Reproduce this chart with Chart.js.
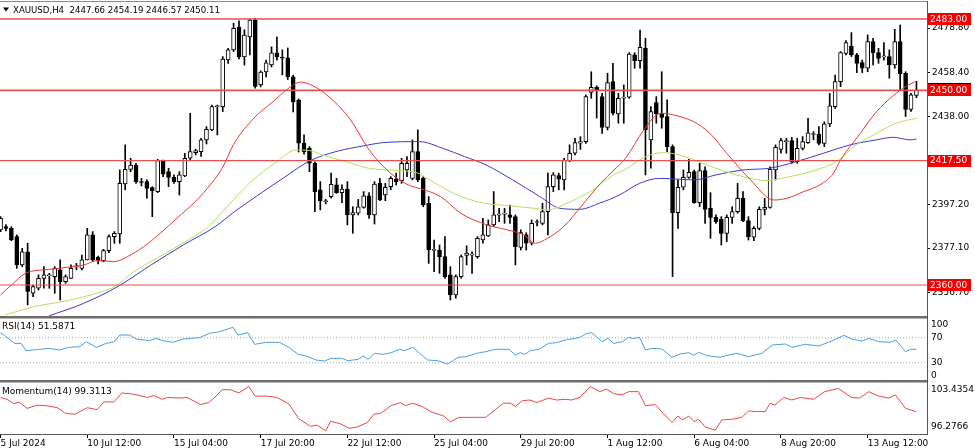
<!DOCTYPE html>
<html>
<head>
<meta charset="utf-8">
<title>XAUUSD H4</title>
<script src="https://cdn.jsdelivr.net/npm/chart.js@4/dist/chart.umd.min.js"></script>
<style>
  html, body { margin: 0; padding: 0; background: #fff; overflow: hidden; }
  #chart { display: block; background: #fff; }
</style>
</head>
<body>
<canvas id="chart" width="975" height="448" style="width:975px;height:448px"></canvas>
<script>
// ============================================
// DATA (bar 0 = 5 Jul 20:00)
// ============================================

const symbolName = 'XAUUSD,H4';

const opens = [
  2385.5, 2387.0, 2386.2, 2382.4, 2369.3, 2375.4, 2356.2, 2358.5, 2363.1, 2364.2,
  2363.9, 2367.0, 2361.6, 2363.1, 2368.4, 2367.7, 2371.6, 2383.2, 2372.8, 2371.3,
  2375.9, 2382.4, 2383.6, 2406.7, 2413.5, 2415.5, 2407.6, 2407.8, 2405.0, 2403.2,
  2417.5, 2412.4, 2409.8, 2407.8, 2410.4, 2418.6, 2421.2, 2421.7, 2427.1, 2431.7,
  2442.4, 2442.5, 2464.1, 2468.7, 2479.3, 2465.4, 2474.7, 2482.5, 2452.5, 2458.5,
  2461.7, 2467.3, 2465.1, 2465.0, 2456.2, 2445.5, 2425.6, 2423.2, 2416.3, 2404.0,
  2398.5, 2400.9, 2406.3, 2402.7, 2404.3, 2392.4, 2393.2, 2395.9, 2401.2, 2392.4,
  2407.0, 2401.6, 2405.5, 2409.0, 2408.2, 2413.2, 2409.3, 2421.7, 2409.3, 2397.8,
  2376.0, 2376.2, 2373.1, 2364.7, 2355.4, 2363.9, 2373.7, 2373.8, 2373.1, 2380.8,
  2382.7, 2387.8, 2392.3, 2392.8, 2392.4, 2391.6, 2377.4, 2383.2, 2379.3, 2388.9,
  2388.5, 2393.9, 2405.5, 2410.6, 2408.6, 2417.5, 2420.9, 2425.6, 2426.3, 2449.0,
  2451.4, 2447.1, 2432.9, 2454.0, 2439.1, 2446.4, 2446.8, 2466.4, 2463.7, 2469.4,
  2427.1, 2444.3, 2439.1, 2437.9, 2424.0, 2393.5, 2405.2, 2409.8, 2412.4, 2398.1,
  2412.9, 2395.5, 2391.3, 2390.4, 2383.9, 2391.3, 2393.9, 2400.1, 2389.8, 2382.1,
  2386.2, 2395.0, 2395.9, 2413.2, 2422.7, 2426.3, 2426.8, 2417.0, 2423.2, 2425.8,
  2429.6, 2429.8, 2425.5, 2434.5, 2442.5, 2454.0, 2467.1, 2470.5, 2466.4, 2462.8,
  2460.2, 2472.5, 2467.4, 2465.5, 2465.6, 2461.7, 2472.5, 2457.9, 2441.2, 2447.66
];

const highs = [
  2391.6, 2388.0, 2387.0, 2383.2, 2377.0, 2379.3, 2360.0, 2364.7, 2368.5, 2365.4,
  2368.5, 2371.6, 2364.7, 2369.3, 2370.0, 2373.9, 2386.2, 2384.7, 2373.4, 2376.5,
  2383.2, 2384.7, 2413.2, 2424.8, 2418.6, 2416.3, 2409.3, 2408.6, 2405.5, 2418.1,
  2417.8, 2414.0, 2410.9, 2412.4, 2420.9, 2439.4, 2422.8, 2427.8, 2433.2, 2443.2,
  2443.2, 2465.6, 2469.4, 2481.0, 2482.1, 2478.0, 2483.0, 2483.3, 2459.0, 2464.0,
  2470.1, 2474.7, 2468.7, 2469.6, 2457.0, 2446.0, 2429.4, 2424.0, 2417.0, 2407.8,
  2399.6, 2411.7, 2409.3, 2406.3, 2407.8, 2396.2, 2399.6, 2403.2, 2402.7, 2407.8,
  2409.3, 2407.0, 2410.1, 2411.7, 2418.6, 2419.4, 2427.1, 2431.7, 2410.1, 2400.9,
  2380.8, 2378.5, 2382.4, 2368.5, 2364.7, 2373.9, 2378.1, 2375.4, 2382.4, 2390.8,
  2390.1, 2403.2, 2395.5, 2395.5, 2397.0, 2392.4, 2385.5, 2384.2, 2390.1, 2390.1,
  2397.8, 2411.7, 2412.0, 2411.7, 2418.6, 2424.8, 2427.8, 2428.6, 2447.9, 2458.6,
  2452.1, 2448.6, 2457.9, 2462.5, 2448.6, 2452.5, 2467.4, 2467.4, 2477.9, 2474.1,
  2442.5, 2447.1, 2458.6, 2445.6, 2424.8, 2408.6, 2413.2, 2418.1, 2413.2, 2416.3,
  2414.7, 2402.7, 2392.4, 2391.6, 2392.4, 2396.2, 2407.0, 2403.2, 2391.6, 2387.0,
  2396.2, 2400.1, 2414.7, 2424.8, 2427.8, 2427.8, 2428.3, 2427.8, 2428.6, 2437.1,
  2430.9, 2433.2, 2435.5, 2448.6, 2457.1, 2467.9, 2473.0, 2476.7, 2467.1, 2464.0,
  2475.6, 2474.1, 2469.4, 2472.1, 2468.7, 2478.2, 2480.2, 2458.6, 2448.6, 2454.19
];

const lows = [
  2384.7, 2385.0, 2380.5, 2367.7, 2368.5, 2350.8, 2354.6, 2357.7, 2358.5, 2358.5,
  2356.2, 2353.1, 2360.8, 2363.1, 2367.0, 2367.0, 2371.6, 2370.8, 2369.8, 2370.7,
  2375.0, 2379.3, 2379.3, 2404.0, 2412.4, 2407.0, 2405.8, 2400.1, 2391.6, 2402.7,
  2410.1, 2405.5, 2407.0, 2401.6, 2410.1, 2417.8, 2420.1, 2419.4, 2425.2, 2431.4,
  2429.4, 2440.2, 2462.5, 2467.9, 2464.5, 2461.7, 2466.4, 2451.0, 2451.6, 2456.2,
  2460.8, 2464.0, 2457.1, 2455.0, 2440.0, 2421.5, 2420.5, 2412.4, 2393.9, 2394.7,
  2397.5, 2400.1, 2402.4, 2398.1, 2387.8, 2383.9, 2392.4, 2395.5, 2390.8, 2388.2,
  2399.0, 2399.0, 2404.0, 2406.3, 2407.0, 2410.1, 2408.6, 2407.8, 2396.2, 2370.0,
  2366.2, 2365.4, 2363.1, 2353.1, 2353.9, 2363.1, 2369.3, 2365.4, 2372.4, 2379.3,
  2382.4, 2387.0, 2389.3, 2388.5, 2388.5, 2369.3, 2376.2, 2376.2, 2378.5, 2387.3,
  2387.8, 2383.2, 2403.2, 2404.0, 2404.0, 2417.0, 2420.1, 2422.7, 2425.5, 2446.3,
  2437.2, 2430.1, 2431.7, 2438.6, 2434.8, 2434.8, 2446.3, 2460.2, 2460.2, 2410.9,
  2414.0, 2434.8, 2432.5, 2421.7, 2363.9, 2386.2, 2404.0, 2409.3, 2397.8, 2396.2,
  2388.5, 2381.6, 2388.5, 2378.5, 2380.1, 2388.5, 2393.2, 2389.3, 2380.8, 2380.5,
  2385.5, 2392.4, 2395.5, 2408.6, 2420.9, 2420.9, 2416.3, 2416.3, 2422.4, 2425.5,
  2427.1, 2424.8, 2424.0, 2433.2, 2441.7, 2451.7, 2466.4, 2465.6, 2458.2, 2458.2,
  2458.6, 2461.7, 2462.5, 2464.0, 2455.6, 2460.2, 2450.2, 2437.9, 2440.2, 2446.57
];

const closes = [
  2390.8, 2386.2, 2380.8, 2369.3, 2375.4, 2357.0, 2359.3, 2363.1, 2364.7, 2364.4,
  2367.7, 2361.6, 2363.9, 2367.7, 2368.6, 2371.6, 2383.2, 2371.6, 2371.3, 2375.9,
  2382.4, 2383.9, 2407.0, 2413.5, 2415.5, 2407.8, 2407.4, 2404.7, 2403.6, 2417.5,
  2411.3, 2409.8, 2407.8, 2410.9, 2418.6, 2421.7, 2422.1, 2427.1, 2432.0, 2442.5,
  2442.7, 2464.4, 2468.7, 2478.7, 2465.4, 2475.5, 2482.5, 2451.8, 2458.5, 2462.7,
  2467.3, 2465.4, 2464.9, 2456.2, 2444.6, 2425.6, 2421.5, 2416.3, 2403.2, 2399.0,
  2398.7, 2406.6, 2402.7, 2404.3, 2392.4, 2393.5, 2396.2, 2401.2, 2392.4, 2406.7,
  2399.3, 2405.2, 2409.3, 2407.8, 2416.3, 2416.3, 2421.7, 2408.6, 2397.0, 2376.2,
  2376.4, 2373.1, 2363.9, 2355.4, 2363.9, 2373.1, 2374.8, 2374.0, 2381.6, 2383.2,
  2387.8, 2392.4, 2392.5, 2393.0, 2391.3, 2377.7, 2384.2, 2379.3, 2388.5, 2389.1,
  2393.9, 2405.5, 2410.9, 2408.9, 2417.8, 2420.9, 2425.8, 2426.3, 2447.1, 2451.4,
  2450.2, 2432.9, 2453.6, 2439.4, 2446.3, 2446.9, 2466.8, 2463.7, 2469.9, 2431.7,
  2440.2, 2439.1, 2437.5, 2424.0, 2393.5, 2405.2, 2409.8, 2412.1, 2398.1, 2412.9,
  2395.0, 2391.3, 2389.3, 2383.9, 2391.3, 2393.9, 2400.1, 2389.8, 2382.4, 2386.2,
  2395.0, 2395.9, 2413.5, 2423.7, 2426.8, 2426.5, 2417.0, 2423.2, 2426.3, 2430.4,
  2429.9, 2425.5, 2434.5, 2442.8, 2454.0, 2467.4, 2472.1, 2466.4, 2462.5, 2460.2,
  2472.5, 2467.4, 2464.8, 2465.6, 2461.7, 2472.5, 2457.6, 2441.2, 2447.9, 2450.11
];

// moving averages as [bar, price]
const maRed = [
  [0, 2355.4], [2, 2360.0], [4.6, 2365.4], [9.2, 2367.3], [12.3, 2368.2], [15.4, 2369.3],
  [17.8, 2371.3], [20.9, 2370.8], [23.4, 2373.1], [26.4, 2377.7], [29.5, 2384.0], [32.6, 2391.0],
  [35.7, 2398.0], [38.1, 2404.5], [40.9, 2414.0], [43, 2425.0], [46.7, 2437.0], [50.4, 2445.0],
  [52.9, 2450.5], [55.4, 2453.8], [57.5, 2452.3], [60.6, 2447.0], [64.6, 2436.3], [67.6, 2424.0],
  [69.5, 2417.8], [72.8, 2410.0], [75.5, 2406.0], [77.5, 2404.5], [81.2, 2400.9], [84.9, 2393.2],
  [89.8, 2387.8], [93.5, 2385.5], [96.6, 2383.1], [98.7, 2379.3], [100.9, 2381.6], [103.9, 2387.0],
  [107.6, 2397.8], [110.7, 2407.0], [113.2, 2413.2], [115.3, 2418.5], [118.7, 2431.7], [121.8, 2439.4],
  [124.2, 2438.6], [127.9, 2435.5], [130.9, 2430.1], [134, 2420.9], [138.4, 2408.6], [142.7, 2399.3],
  [145.1, 2400.1], [148.2, 2403.2], [151.2, 2406.3], [153.7, 2411.7], [155, 2417.8], [158.6, 2430.0],
  [161.6, 2440.0], [164.7, 2447.5], [167.2, 2452.0], [168.7, 2454.0]
];

const maYellow = [
  [0.9, 2346.2], [6.2, 2350.0], [12.3, 2352.8], [18.5, 2356.8], [21.2, 2359.5], [24.6, 2366.2],
  [28.9, 2372.5], [34.4, 2380.5], [38.1, 2386.5], [41.8, 2396.2], [46.1, 2407.5], [51, 2417.0],
  [54.5, 2422.4], [57, 2422.2], [59.4, 2420.1], [63.8, 2417.0], [68.1, 2413.9], [73, 2413.0],
  [76.9, 2411.8], [78.7, 2409.3], [83.6, 2402.4], [88.6, 2398.1], [92.3, 2397.0], [98.4, 2395.5],
  [100.9, 2394.7], [104.5, 2397.8], [108.8, 2403.2], [113.1, 2410.9], [115.3, 2413.5], [119.1, 2419.4],
  [122.2, 2421.2], [125.3, 2420.1], [128, 2417.8], [132, 2414.0], [137, 2410.1], [141.3, 2408.3],
  [145.6, 2410.1], [150.5, 2413.2], [154.2, 2417.0], [157.9, 2424.8], [161.6, 2430.1], [165.3, 2434.8],
  [169, 2437.1]
];

const maBlue = [
  [8.9, 2345.7], [15.3, 2351.5], [21.7, 2359.4], [27.6, 2369.0], [33.7, 2378.5], [39.6, 2387.0],
  [43.2, 2394.0], [47.2, 2401.0], [52.2, 2409.5], [57, 2417.3], [61.9, 2421.7], [66.9, 2424.3],
  [70.5, 2425.8], [77.3, 2426.3], [81.6, 2423.2], [85.6, 2419.4], [89.6, 2415.5], [94.5, 2408.6],
  [99.5, 2400.9], [103.2, 2395.5], [106.8, 2395.0], [110.5, 2397.8], [114.2, 2401.6], [117.9, 2407.0],
  [121.6, 2409.3], [125.3, 2408.9], [128, 2408.6], [132, 2410.9], [137, 2413.2], [141.9, 2414.0],
  [146.8, 2417.0], [151.8, 2420.9], [156.8, 2424.8], [161.6, 2427.1], [164.7, 2428.3], [167.9, 2427.1],
  [169, 2427.5]
];

// RSI(14) as [bar, value]
const rsiPoints = [
  [0, 78.1], [1, 71.7], [2.6, 61], [3.8, 61], [4.7, 49.3], [7.2, 51.5], [9, 53], [10.9, 50.4],
  [12.7, 54.7], [14.6, 55.7], [15.8, 63.7], [17.7, 54.7], [19.5, 61], [21, 63.7], [22, 74.4],
  [23.8, 74.4], [25, 68], [27.5, 65.3], [28.7, 69], [30, 65.3], [31.8, 62.7], [33.6, 68],
  [36.7, 70.1], [38.6, 77.1], [40.4, 79.7], [42.3, 85.1], [42.9, 86.7], [43.8, 74.4], [45.6, 78.1],
  [46.9, 59.5], [49, 62.7], [51.5, 62.7], [53.3, 54.1], [54.9, 43.5], [56.4, 40.8], [58.2, 34.4],
  [59.8, 32.8], [61, 37.1], [62.9, 37.1], [64.1, 33.3], [66, 35.5], [66.9, 40.8], [67.8, 35.5],
  [69, 45.1], [70.5, 43.5], [72.1, 46.1], [73.6, 51.5], [74.5, 49.3], [76.1, 54.7], [77.3, 45.1],
  [78.8, 34.4], [80.7, 33.3], [82.5, 28], [84.4, 38.7], [85.9, 39.7], [87.8, 45.1], [89.5, 47.7],
  [91.3, 51.5], [93.8, 51.5], [95, 42.4], [95.9, 46.1], [96.8, 43.5], [97.7, 49.3], [99.3, 51.5],
  [101.1, 61], [102.6, 62.1], [104.2, 66.4], [106, 69.1], [106.9, 70.7], [108.2, 77.1], [109.1, 78.1],
  [111, 63.7], [112.1, 69.1], [113.1, 61], [114.7, 63.7], [115.9, 70.7], [116.8, 68.5], [117.9, 70.7],
  [119, 50.4], [120.2, 53.1], [122.1, 52], [123.9, 38.7], [125.4, 44], [127, 46.1], [127.9, 41.9],
  [128.8, 46.7], [130.4, 41.3], [132.8, 38.7], [134.3, 42.4], [135.9, 45.1], [138, 39.7], [140.5, 45.1],
  [142.4, 58.4], [144.8, 60], [146, 54.7], [148.5, 59.5], [151, 56.8], [153.4, 64.8], [155.6, 73.9],
  [157.2, 67.5], [159, 64.8], [160.2, 69.1], [162.1, 63.7], [164.2, 62.7], [165.2, 66.4], [167, 47.7],
  [167.9, 51.5], [169, 51.6]
];

// Momentum(14) as [bar, value]
const momPoints = [
  [0, 101.5], [1.2, 101.2], [2.5, 100.5], [3.4, 100.8], [4.9, 99.8], [6.8, 100.3], [8.6, 100.2],
  [10.5, 99.9], [12, 99.0], [13.8, 98.9], [16, 99.9], [17.8, 99.6], [19.1, 100.8], [20.9, 100.8],
  [22.4, 102.2], [24.6, 102.0], [27.1, 101.5], [28.3, 101.8], [29.8, 101.2], [30.8, 101.5],
  [33.2, 101.4], [34.4, 101.5], [36.9, 100.4], [38.4, 100.7], [39.4, 101.4], [40.9, 102.7],
  [42.4, 102.7], [44, 102.2], [45.8, 103.2], [47, 101.7], [49.2, 101.7], [51, 101.5], [53.2, 100.5],
  [55, 98.2], [57.2, 97.0], [58.4, 97.2], [60, 96.3], [60.9, 97.8], [62.7, 97.4], [64.3, 96.7],
  [65.8, 96.9], [67.7, 97.6], [68.9, 98.9], [70.1, 99.0], [72, 100.2], [73.8, 100.7], [74.7, 100.2],
  [76, 100.6], [77.8, 100.1], [79.3, 99.3], [81.8, 98.6], [83, 97.7], [84.6, 98.4], [87.3, 98.4],
  [89.5, 98.4], [91.3, 99.6], [92.8, 100.6], [94.1, 100.6], [95, 100.1], [96.3, 101.0], [97.7, 101.1],
  [99, 100.7], [101.1, 101.4], [102.6, 101.1], [104.2, 101.2], [105.4, 101.1], [106.9, 101.5],
  [108.8, 103.2], [110.6, 102.4], [111.8, 102.8], [113.1, 102.1], [114.7, 101.9], [115.9, 102.4],
  [117.7, 102.4], [119, 100.2], [120.8, 100.4], [122.3, 99.0], [123.9, 97.6], [125, 98.6], [125.8, 98.0],
  [127, 98.6], [128, 97.7], [128.8, 98.1], [130, 96.9], [131.9, 96.4], [133.1, 98.0], [135, 98.1],
  [136.8, 98.4], [138, 99.4], [139.6, 99.3], [141.1, 99.3], [142, 100.6], [142.9, 100.3], [144.5, 101.5],
  [146, 101.1], [147.6, 101.5], [150, 101.2], [152.1, 102.4], [154.6, 102.9], [157, 101.5], [158.5, 101.4],
  [160.2, 102.4], [162.1, 101.7], [163.9, 101.4], [165.1, 101.9], [167, 99.8], [168.9, 99.3]
];

const priceTicks = [2478.8, 2458.4, 2438.0, 2417.5, 2397.2, 2377.1, 2356.7];
const levelPrices = [2483.0, 2450.0, 2417.5, 2360.0];
const bidPrice = 2450.11;

const xTickBars = [0, 16, 32, 48, 64, 80, 96, 112, 128, 144, 160];
const xTickLabels = ['5 Jul 2024', '10 Jul 12:00', '15 Jul 04:00', '17 Jul 20:00', '22 Jul 12:00',
  '25 Jul 04:00', '29 Jul 20:00', '1 Aug 12:00', '6 Aug 04:00', '8 Aug 20:00', '13 Aug 12:00'];

const rsiLevels = [70, 30];
const rsiAxisLabels = ['100', '70', '30', '0'];
const momAxisLabels = ['103.4354', '96.2766'];
const rsiTitle = 'RSI(14) 51.5871';
const momTitle = 'Momentum(14) 99.3113';

// ============================================
// BUILD DATASETS
// ============================================

const X_MIN = -0.1, X_MAX = 170.95;
const FONT = "'DejaVu Sans', sans-serif";

Chart.defaults.font.family = FONT;
Chart.defaults.font.size = 9;
Chart.defaults.color = '#000';

const barIdx = opens.map((o, i) => i);
const wickData = barIdx.map(i => ({ x: i, y: [lows[i], highs[i]] }));
const bodyData = barIdx.map(i => ({ x: i, y: [opens[i], closes[i]] }));
const bodyFill = barIdx.map(i => closes[i] >= opens[i] ? '#ffffff' : '#000000');
const toXY = arr => arr.map(p => ({ x: p[0], y: p[1] }));
const hLine = v => [{ x: X_MIN, y: v }, { x: X_MAX, y: v }];

function lineSet(data, color, axis, order, smooth) {
    return {
        type: 'line', data: data, yAxisID: axis, order: order,
        borderColor: color, borderWidth: 1, pointRadius: 0, fill: false,
        cubicInterpolationMode: smooth ? 'monotone' : 'default', tension: 0
    };
}

const datasets = [];
levelPrices.forEach((p, i) => {
    const ds = lineSet(hLine(p), '#e65050', 'y', 0, false);
    ds.borderWidth = i < 2 ? 1.6 : 1.1;
    datasets.push(ds);
});
datasets.push(lineSet(toXY(maRed), '#ee3434', 'y', 1, true));
datasets.push(lineSet(toXY(maYellow), '#b2e05a', 'y', 1, true));
datasets.push(lineSet(toXY(maBlue), '#3a3ad0', 'y', 1, true));
datasets.push({
    type: 'bar', data: bodyData, yAxisID: 'y', order: 2,
    backgroundColor: bodyFill, borderColor: '#000', borderWidth: 1, borderSkipped: false,
    barThickness: 4, minBarLength: 1, grouped: false
});
datasets.push({
    type: 'bar', data: wickData, yAxisID: 'y', order: 3,
    backgroundColor: '#000', borderWidth: 0, barThickness: 1, grouped: false
});
rsiLevels.forEach(v => {
    const ds = lineSet(hLine(v), '#a8a8a8', 'rsi', 1, false);
    ds.borderDash = [1, 2];
    datasets.push(ds);
});
datasets.push(lineSet(toXY(rsiPoints), '#4a9fe4', 'rsi', 0, false));
datasets.push(lineSet(toXY(momPoints), '#ec4646', 'mom', 0, false));

// ============================================
// DECORATION PLUGIN (frame, header, tags)
// ============================================

const paneDecor = {
    id: 'paneDecor',
    afterDraw(chart) {
        const { ctx, chartArea: a, scales } = chart;
        const py = scales.y, pr = scales.rsi, pm = scales.mom;
        ctx.save();

        // frame top and pane separators
        ctx.fillStyle = '#8a8a8a';
        ctx.fillRect(0, a.top, a.right, 1);
        ctx.fillStyle = '#6c6c6c';
        ctx.fillRect(0, pr.top - 3, a.right, 2.5);
        ctx.fillRect(0, pm.top - 2, a.right, 2.5);

        // header
        const last = opens.length - 1;
        ctx.fillStyle = '#000';
        ctx.beginPath();
        ctx.moveTo(3, 7.5); ctx.lineTo(9, 7.5); ctx.lineTo(6, 11.5); ctx.closePath();
        ctx.fill();
        ctx.font = '8.6px ' + FONT;
        ctx.textBaseline = 'middle';
        ctx.textAlign = 'left';
        const ohlc = [opens[last], highs[last], lows[last], closes[last]].map(v => v.toFixed(2)).join(' ');
        ctx.fillText(symbolName + '  ' + ohlc, 13, 10.5);

        // indicator titles
        ctx.font = '9px ' + FONT;
        ctx.fillText(rsiTitle, 2, pr.top + 7.5);
        ctx.fillText(momTitle, 2, pm.top + 9.5);

        // indicator scale labels
        const lx = a.right + 4;
        ctx.fillText(rsiAxisLabels[0], lx, pr.top + 6);
        ctx.fillText(rsiAxisLabels[1], lx, pr.getPixelForValue(70));
        ctx.fillText(rsiAxisLabels[2], lx, pr.getPixelForValue(30));
        ctx.fillText(rsiAxisLabels[3], lx, pr.bottom - 6.5);
        ctx.fillText(momAxisLabels[0], lx, pm.top + 8);
        ctx.fillText(momAxisLabels[1], lx, pm.bottom - 7);

        // bid tag (mostly hidden) and level tags
        const tag = (price, fill, text, up) => {
            const yy = py.getPixelForValue(price);
            ctx.fillStyle = fill;
            ctx.fillRect(a.right + 1, Math.round(yy - 6) - up, 43, 12 + up);
            if (text) {
                ctx.fillStyle = '#fff';
                ctx.fillText(text, a.right + 3, yy + 0.5);
            }
        };
        tag(bidPrice, '#000', '', 1);
        levelPrices.forEach(p => tag(p, '#f40000', p.toFixed(2), 0));

        ctx.restore();
    }
};

// ============================================
// CHART
// ============================================

// fixed axis sizes and no label overhang padding, so panes sit where MT4 put them
function fixVertical(s) {
    s.width = 48;
    s.paddingTop = 0;
    s.paddingBottom = 0;
}

function fixHorizontal(s) {
    s.height = 14;
    s.paddingLeft = 0;
    s.paddingRight = 0;
}

const yAxisBase = (weight, stackWeight, min, max) => ({
    type: 'linear', axis: 'y', position: 'right', stack: 'panes',
    weight: weight, stackWeight: stackWeight, min: min, max: max,
    afterFit: fixVertical,
    border: { display: true, color: '#555', width: 1 }
});

const yMain = yAxisBase(1, 318, 2344.3, 2491.3);
yMain.afterBuildTicks = s => { s.ticks = priceTicks.map(v => ({ value: v })); };
yMain.ticks = { padding: 2, callback: v => Number(v).toFixed(2) };
yMain.grid = { drawOnChartArea: false, drawTicks: true, tickLength: 3, color: '#000' };

const yRsi = yAxisBase(2, 63, -0.8, 100);
yRsi.ticks = { display: false };
yRsi.grid = { display: false };

const yMom = yAxisBase(3, 52, 95.81, 103.90);
yMom.ticks = { display: false };
yMom.grid = { display: false };

new Chart(document.getElementById('chart'), {
    type: 'bar',
    data: { datasets: datasets },
    options: {
        responsive: false,
        animation: false,
        events: [],
        layout: { padding: { top: 1, left: 0, right: 0, bottom: 0 } },
        plugins: { legend: { display: false }, tooltip: { enabled: false } },
        scales: {
            x: {
                type: 'linear', position: 'bottom', offset: false,
                min: X_MIN, max: X_MAX,
                afterBuildTicks: s => { s.ticks = xTickBars.map(v => ({ value: v })); },
                afterFit: fixHorizontal,
                ticks: {
                    autoSkip: false, maxRotation: 0, minRotation: 0, align: 'start', padding: 0,
                    callback: (v, i) => xTickLabels[i]
                },
                grid: { offset: false, drawOnChartArea: false, drawTicks: true, tickLength: 4, color: '#000' },
                border: { display: true, color: '#555', width: 1 }
            },
            y: yMain,
            rsi: yRsi,
            mom: yMom
        }
    },
    plugins: [paneDecor]
});
</script>
</body>
</html>
